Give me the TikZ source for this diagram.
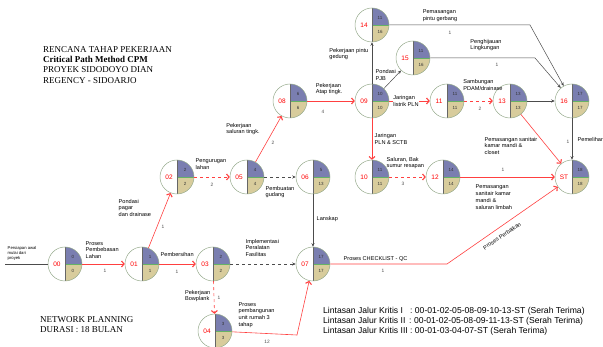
\documentclass[tikz,border=0pt]{standalone}
\usepackage{fontspec}
\setmainfont{Liberation Serif}
\setsansfont{Liberation Sans}
\usetikzlibrary{arrows.meta, calc, positioning}
\definecolor{evblue}{RGB}{122,126,176}
\definecolor{evtan}{RGB}{216,204,156}
\definecolor{evring}{RGB}{150,170,140}
\tikzset{
    evcircle/.style={
        circle,
        draw=evring,
        line width=0.5pt,
        minimum size=34pt,
        inner sep=0pt
    },
    evnum/.style={text=red, font=\sffamily\fontsize{6.5}{6.5}\selectfont, inner sep=0pt},
    evval/.style={text=black!80, font=\sffamily\fontsize{4.5}{4.5}\selectfont, inner sep=0pt},
    crit/.style={
        -{Straight Barb[length=2.5pt,width=6pt,line width=1.1pt]},
        draw=red!75,
        line width=0.6pt
    },
    norm/.style={
        -{Stealth[length=3.5pt,width=3pt]},
        draw=black!70,
        line width=0.5pt
    },
    lbl/.style={font=\sffamily\fontsize{5.6}{6.8}\selectfont, align=left, inner sep=0.5pt},
    dur/.style={font=\sffamily\fontsize{4.8}{5}\selectfont, text=black!70, inner sep=0pt},
    title/.style={font=\fontsize{9}{10.4}\selectfont, align=left, inner sep=0pt}
}
% event circle: name, position, number, upper value, lower value
\newcommand{\evnode}[5]{%
    \begin{scope}
        \clip (#2) circle[radius=17pt];
        \fill[evblue] (#2) rectangle ++(18,-18);
        \fill[evtan] (#2) rectangle ++(18,18);
    \end{scope}
    \draw[green!50!black!60, line width=0.5pt] (#2) -- ++(17,0);
    \draw[black!60, line width=0.4pt] (#2) ++(0,-17) -- ++(0,34);
    \node[evcircle] (#1) at (#2) {};
    \node[evnum] at ($(#2)+(-8,0)$) {#3};
    \node[evval] at ($(#2)+(8,-7)$) {#4};
    \node[evval] at ($(#2)+(8,7)$) {#5};
}

\begin{document}
\begin{tikzpicture}[x=1pt, y=-1pt]
    \useasboundingbox (0,0) rectangle (603,347);

    % Titles
    \node[title, anchor=north west] (title) at (43,46)
        {RENCANA TAHAP PEKERJAAN\\\textbf{Critical Path Method CPM}\\PROYEK SIDODOYO DIAN\\REGENCY - SIDOARJO};
    \node[title, anchor=north west] (durasi) at (40,316)
        {NETWORK PLANNING\\DURASI : 18 BULAN};

    % Events
    \evnode{n00}{65,264}{00}{0}{0}
    \evnode{n01}{142,264}{01}{1}{1}
    \evnode{n02}{177,177}{02}{2}{2}
    \evnode{n03}{213,264}{03}{2}{2}
    \evnode{n04}{215,331}{04}{3}{3}
    \evnode{n05}{247,177}{05}{4}{4}
    \evnode{n06}{313,177}{06}{5}{13}
    \evnode{n07}{313,264}{07}{17}{17}
    \evnode{n08}{290,101}{08}{6}{6}
    \evnode{n09}{372,101}{09}{10}{10}
    \evnode{n14}{372,25}{14}{11}{16}
    \evnode{n15}{413,58}{15}{11}{16}
    \evnode{n11}{447,101}{11}{11}{11}
    \evnode{n13}{510,101}{13}{13}{13}
    \evnode{n16}{572,101}{16}{17}{17}
    \evnode{n10}{372,177}{10}{11}{11}
    \evnode{n12}{443,177}{12}{14}{14}
    \evnode{nST}{572,177}{ST}{18}{18}

    % Bends
    \coordinate (start) at (5,264);
    \coordinate (c47) at (297,335);
    \coordinate (c7s) at (447,264);
    \coordinate (c14) at (530,25);
    \coordinate (c15) at (535,58);

    % Critical activities
    \draw[crit] (n00) -- (n01);
    \draw[crit] (n01) -- (n02);
    \draw[crit] (n01) -- (n03);
    \draw[crit, dashed] (n02) -- (n05);
    \draw[crit] (n05) -- (n08);
    \draw[crit] (n08) -- (n09);
    \draw[crit] (n09) -- (n11);
    \draw[crit, dashed] (n11) -- (n13);
    \draw[crit] (n09) -- (n10);
    \draw[crit, dashed] (n10) -- (n12);
    \draw[crit] (n12) -- (nST);
    \draw[crit] (n13) -- (nST);
    \draw[crit, dashed] (n03) -- (n04);
    \draw[crit] (n04) -- (c47) -- (n07);
    \draw[crit] (n07) -- (c7s) -- (nST);

    % Other activities
    \draw[black!70, line width=0.5pt] (start) -- (n00);
    \draw[norm, dashed] (n05) -- (n06);
    \draw[norm] (n06) -- (n07);
    \draw[norm, dashed] (n03) -- (n07);
    \draw[norm] (n09) -- (n14);
    \draw[norm] (n09) -- (n15);
    \draw[norm] (n14) -- (c14) -- (n16);
    \draw[norm] (n15) -- (c15) -- (n16);
    \draw[norm] (n13) -- (n16);
    \draw[norm] (n16) -- (nST);

    % Activity labels
    \node[lbl, font=\sffamily\fontsize{4.2}{4.8}\selectfont, anchor=south west] (l00) at (7,261) {Persiapan awal\\mulai dari\\proyek};
    \node[lbl, anchor=west] (l0001) at (85,250) {Proses\\Pembebasan\\Lahan};
    \node[lbl, anchor=west] (l0102) at (118,208) {Pondasi\\pagar\\dan drainase};
    \node[lbl, anchor=west, fill=white] (l0103) at (160,255) {Pembersihan};
    \node[lbl, anchor=west] (l0205) at (195,164) {Pengurugan\\lahan};
    \node[lbl] (l0508) at (243,129) {Pekerjaan\\saluran tingk.};
    \node[lbl, anchor=west] (l0506) at (265,192) {Pembuatan\\gudang};
    \node[lbl] (l0809) at (329,89) {Pekerjaan\\Atap tingk.};
    \node[lbl, anchor=east] (l0914) at (369,54) {Pekerjaan pintu\\gedung};
    \node[lbl, anchor=west] (l0915) at (375,75) {Pondasi\\PJB};
    \node[lbl, fill=white] (l0911) at (406,101) {Jaringan\\listrik PLN};
    \node[lbl] (l1113) at (483,85) {Sambungan\\PDAM/drainase};
    \node[lbl] (l1416) at (440,16) {Pemasangan\\pintu gerbang};
    \node[lbl] (l1516) at (486,45) {Penghijauan\\Lingkungan};
    \node[lbl, anchor=west] (l16ST) at (577,140) {Pemeliharaan};
    \node[lbl, anchor=west] (l0910) at (374,139) {Jaringan\\PLN \& SCTB};
    \node[lbl, anchor=west] (l1012) at (386,163) {Saluran, Bak\\sumur resapan};
    \node[lbl, anchor=west] (l13ST) at (484,146) {Pemasangan sanitair\\kamar mandi \&\\closet};
    \node[lbl, anchor=west] (l12ST) at (475,197) {Pemasangan\\sanitair kamar\\mandi \&\\saluran limbah};
    \node[lbl, anchor=west] (l0607) at (316,219) {Lanskap};
    \node[lbl, anchor=west] (l0307) at (245,248) {Implementasi\\Peralatan\\Fasilitas};
    \node[lbl, anchor=east] (l0304) at (211,296) {Pekerjaan\\Bowplank};
    \node[lbl, anchor=west] (l0407) at (238,315) {Proses\\pembangunan\\unit rumah 3\\tahap};
    \node[lbl, anchor=west] (l07ST) at (343,259) {Proses CHECKLIST - QC};
    \node[lbl, rotate=34] (l07STb) at (502,236) {Proses Perbaikan};

    % Durations
    \node[dur] (d0001) at (105,271) {1};
    \node[dur] (d0102) at (163,227) {1};
    \node[dur] (d0103) at (177,272) {1};
    \node[dur] (d0205) at (212,185) {2};
    \node[dur] (d0508) at (273,143) {2};
    \node[dur] (d0809) at (323,112) {4};
    \node[dur] (d1113) at (480,109) {2};
    \node[dur] (d1416) at (450,33) {1};
    \node[dur] (d1516) at (497,65) {1};
    \node[dur] (d16ST) at (568,142) {1};
    \node[dur] (d1012) at (403,184) {3};
    \node[dur] (d13ST) at (503,170) {1};
    \node[dur] (d0304) at (219,298) {1};
    \node[dur] (d0407) at (267,342) {12};
    \node[dur] (d07ST) at (383,271) {1};

    % Critical paths
    \node[font=\sffamily\fontsize{8.6}{10}\selectfont, align=left, anchor=north west, inner sep=0pt] (paths) at (323,307)
        {Lintasan Jalur Kritis I \ \ : 00-01-02-05-08-09-10-13-ST (Serah Terima)\\
         Lintasan Jalur Kritis II \,: 00-01-02-05-08-09-11-13-ST (Serah Terima)\\
         Lintasan Jalur Kritis III : 00-01-03-04-07-ST (Serah Terima)};
\end{tikzpicture}
\end{document}
